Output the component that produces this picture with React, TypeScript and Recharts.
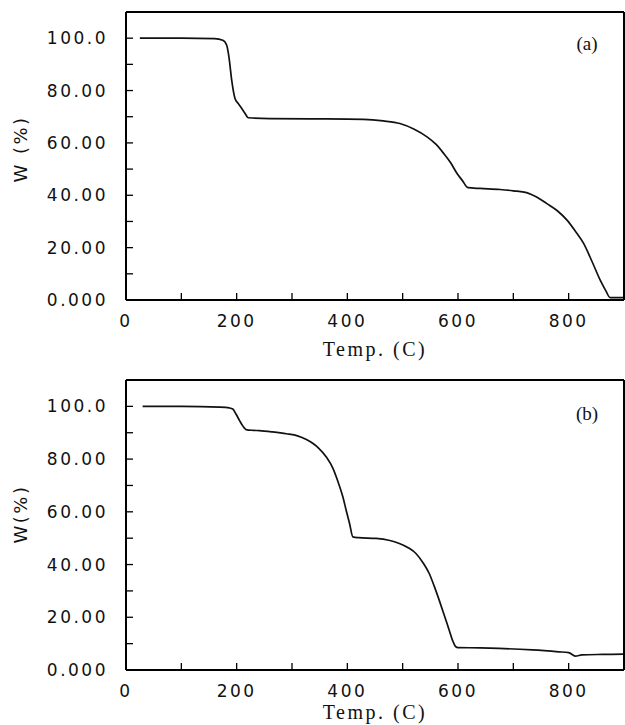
import { LineChart, Line, XAxis, YAxis, Label } from 'recharts';

// TGA curves
const TEMP_A = [25, 100, 160, 175, 182, 186, 191, 197, 203, 209, 215, 221, 260, 340, 429, 465, 495, 520, 544, 560, 574, 587, 598, 608, 618, 640, 676, 700, 724, 742, 760, 780, 797, 812, 827, 842, 857, 867, 875, 885, 900];
const W_A = [100, 100, 99.8, 99.2, 97.3, 92.9, 84, 77, 75, 73.2, 71.3, 69.6, 69.3, 69.2, 69, 68.4, 67.4, 65.3, 62.3, 59.5, 56, 52.3, 48.4, 45.6, 42.9, 42.6, 42.2, 41.7, 41, 39.3, 36.9, 34, 30.5, 26.3, 21.6, 14.8, 7.6, 3.6, 0.9, 0.9, 0.9];

const TEMP_B = [30, 100, 170, 187, 193, 199, 205, 211, 217, 230, 241, 265, 290, 310, 326, 338, 348, 362, 374, 383, 392, 398, 404, 410, 420, 452, 475, 494, 510, 524, 537, 548, 557, 566, 575, 584, 591, 596, 600, 640, 674, 734, 782, 800, 812, 824, 860, 900];
const W_B = [100, 100, 99.7, 99.4, 99, 97, 94.7, 92.6, 91.2, 90.9, 90.8, 90.3, 89.6, 88.8, 87.4, 85.9, 84.2, 80.8, 76.5, 71.5, 65.6, 60.5, 55.6, 50.5, 50.2, 49.9, 49.2, 48, 46.4, 44.2, 40.6, 36.6, 31.8, 26.5, 20.9, 15.2, 10.8, 8.8, 8.5, 8.4, 8.2, 7.6, 6.9, 6.6, 5.3, 5.7, 5.9, 6];

const X_TICKS = [0, 100, 200, 300, 400, 500, 600, 700, 800, 900];
const X_LABELS = ['0', '200', '400', '600', '800'];
const Y_TICKS = [0, 10, 20, 30, 40, 50, 60, 70, 80, 90, 100, 110];
const Y_LABELS = ['0.000', '20.00', '40.00', '60.00', '80.00', '100.0'];

const tickFont = { fontFamily: 'DejaVu Sans', fontSize: 17, letterSpacing: 2.5, fill: '#111' };
const axisLine = { stroke: '#000', strokeWidth: 2 };
const tickLine = { stroke: '#000', strokeWidth: 1.3 };

const fmtX = (v: number) => (v % 200 === 0 && v < 900 ? X_LABELS[v / 200] : '');
const fmtY = (v: number) => (v % 20 === 0 ? Y_LABELS[v / 20] : '');

interface PanelProps {
  temps: number[];
  weights: number[];
  tag: string;
  yTitle: string;
  top: number;
  height: number;
  marginTop: number;
  xAxisHeight: number;
  tagDy: number;
  titleDy: number;
}

function Panel({ temps, weights, tag, yTitle, top, height, marginTop, xAxisHeight, tagDy, titleDy }: PanelProps) {
  const data = temps.map((t, i) => ({ t, w: weights[i] }));
  return (
    <div style={{ position: 'absolute', left: 0, top }}>
      <LineChart width={625} height={height} data={data} margin={{ top: marginTop, right: 0, bottom: 0, left: 0 }}>
        <XAxis
          dataKey="t"
          type="number"
          domain={[0, 900]}
          ticks={X_TICKS}
          interval={0}
          allowDataOverflow
          height={xAxisHeight}
          axisLine={axisLine}
          tickLine={tickLine}
          tickSize={-7}
          tickMargin={22}
          tick={tickFont}
          tickFormatter={fmtX}
        >
          <Label
            content={({ viewBox }: any) => (
              <text
                x={viewBox.x + viewBox.width / 2}
                y={viewBox.y + titleDy}
                textAnchor="middle"
                dominantBaseline="central"
                style={{ fontFamily: 'Liberation Serif', fontSize: 20, letterSpacing: 2.5, fill: '#111' }}
              >
                Temp. (C)
              </text>
            )}
          />
        </XAxis>
        <XAxis
          xAxisId="top"
          orientation="top"
          type="number"
          domain={[0, 900]}
          ticks={X_TICKS}
          interval={0}
          height={1}
          axisLine={axisLine}
          tickLine={tickLine}
          tickSize={-7}
          tickFormatter={() => ''}
        >
          <Label
            content={({ viewBox }: any) => (
              <text
                x={viewBox.x + viewBox.width - 37}
                y={viewBox.y + tagDy}
                textAnchor="middle"
                dominantBaseline="central"
                style={{ fontFamily: 'Liberation Serif', fontSize: 19, fill: '#111' }}
              >
                {tag}
              </text>
            )}
          />
        </XAxis>
        <YAxis
          type="number"
          domain={[0, 110]}
          ticks={Y_TICKS}
          interval={0}
          allowDataOverflow
          width={126}
          axisLine={axisLine}
          tickLine={tickLine}
          tickSize={-7}
          tickMargin={25}
          tick={tickFont}
          tickFormatter={fmtY}
        >
          <Label
            content={() => (
              <text
                x={20}
                y={149}
                transform="rotate(-90, 20, 149)"
                textAnchor="middle"
                dominantBaseline="central"
                style={{ fontFamily: 'DejaVu Sans', fontSize: 18, letterSpacing: 2.5, fill: '#111' }}
              >
                {yTitle}
              </text>
            )}
          />
        </YAxis>
        <YAxis
          yAxisId="right"
          orientation="right"
          type="number"
          domain={[0, 110]}
          ticks={Y_TICKS}
          interval={0}
          width={1}
          axisLine={axisLine}
          tickLine={tickLine}
          tickSize={-7}
          tickFormatter={() => ''}
        />
        <Line
          type="monotone"
          dataKey="w"
          stroke="#111"
          strokeWidth={1.7}
          dot={false}
          isAnimationActive={false}
        />
      </LineChart>
    </div>
  );
}

export default function App() {
  return (
    <div style={{ position: 'absolute', left: 0, top: 0, width: 625, height: 725, background: '#fff' }}>
      <Panel temps={TEMP_A} weights={W_A} tag="(a)" yTitle="W (%)" top={0} height={365} marginTop={11} xAxisHeight={65} tagDy={32} titleDy={49} />
      <Panel temps={TEMP_B} weights={W_B} tag="(b)" yTitle="W(%)" top={365} height={360} marginTop={14} xAxisHeight={55} tagDy={34} titleDy={42} />
    </div>
  );
}
